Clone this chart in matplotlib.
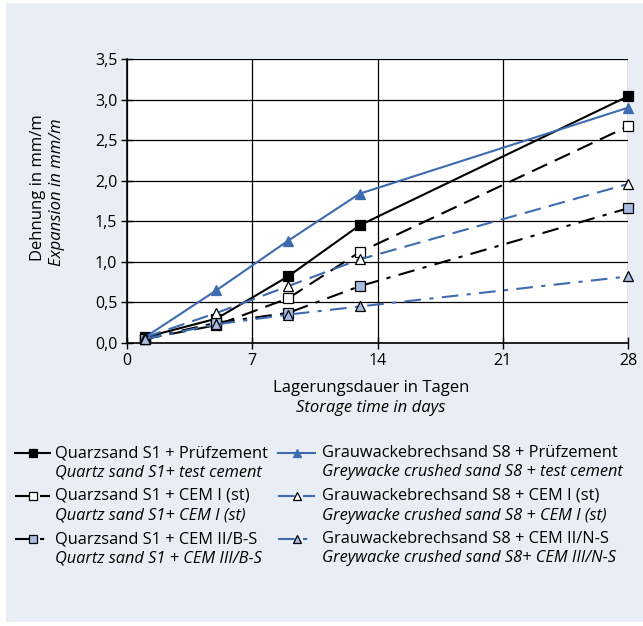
import matplotlib.pyplot as plt
from matplotlib.lines import Line2D
from matplotlib.patches import Rectangle

plt.rcParams['font.family'] = ['Open Sans', 'DejaVu Sans']

# storage time in days
days = [1, 5, 9, 13, 28]

# expansion in mm/m
s1_test = [0.07, 0.30, 0.82, 1.45, 3.04]
s1_cem1 = [0.05, 0.22, 0.55, 1.12, 2.67]
s1_cem2 = [0.05, 0.25, 0.37, 0.70, 1.66]
s8_test = [0.07, 0.65, 1.26, 1.84, 2.90]
s8_cem1 = [0.07, 0.37, 0.70, 1.03, 1.96]
s8_cem2 = [0.05, 0.23, 0.35, 0.45, 0.82]

labels_de = ["Quarzsand S1 + Prüfzement", "Quarzsand S1 + CEM I (st)",
             "Quarzsand S1 + CEM II/B-S", "Grauwackebrechsand S8 + Prüfzement",
             "Grauwackebrechsand S8 + CEM I (st)", "Grauwackebrechsand S8 + CEM II/N-S"]
labels_en = ["Quartz sand S1+ test cement", "Quartz sand S1+ CEM I (st)",
             "Quartz sand S1 + CEM III/B-S", "Greywacke crushed sand S8 + test cement",
             "Greywacke crushed sand S8 + CEM I (st)", "Greywacke crushed sand S8+ CEM III/N-S"]

yticks = [0, 0.5, 1.0, 1.5, 2.0, 2.5, 3.0, 3.5]
xticks = [0, 7, 14, 21, 28]

bg = "#e9eef6"
blue = "#3e6bb0"
light = "#a8bde0"

styles = [
    dict(color="black", ls="-", marker="s", mfc="black", mec="black"),
    dict(color="black", ls=(0, (8, 4)), marker="s", mfc="white", mec="black"),
    dict(color="black", ls=(0, (8, 4, 2, 4)), marker="s", mfc=light, mec="black"),
    dict(color=blue, ls="-", marker="^", mfc=blue, mec=blue),
    dict(color=blue, ls=(0, (8, 4)), marker="^", mfc="white", mec="black"),
    dict(color=blue, ls=(0, (8, 4, 2, 4)), marker="^", mfc=light, mec="black"),
]
series = [s1_test, s1_cem1, s1_cem2, s8_test, s8_cem1, s8_cem2]

W, H = 643, 626
fig = plt.figure(figsize=(W / 100, H / 100), dpi=100)
fig.patch.set_facecolor("white")
fig.patches.append(Rectangle((6 / W, 1 - 622 / H), 637 / W, 619 / H,
                             transform=fig.transFigure, facecolor=bg,
                             edgecolor="none", zorder=-10))

ax = fig.add_axes([127 / W, 1 - 343 / H, 501 / W, 284 / H])
ax.set_facecolor("white")

for ys, st in zip(series, styles):
    ax.plot(days, ys, color=st["color"], ls=st["ls"], lw=1.5, marker=st["marker"],
            ms=7, mfc=st["mfc"], mec=st["mec"], mew=0.9, clip_on=False, zorder=3)

ax.set_xlim(0, 28)
ax.set_ylim(0, 3.5)
ax.set_xticks(xticks)
ax.set_yticks(yticks)
ax.set_yticklabels([f"{v:.1f}".replace(".", ",") for v in yticks])
ax.grid(True, color="black", lw=0.9)
ax.set_axisbelow(True)
for s in ["top", "right"]:
    ax.spines[s].set_visible(False)
for s in ["left", "bottom"]:
    ax.spines[s].set_linewidth(1.2)
ax.tick_params(direction="inout", length=8, width=1, labelsize=11.5, pad=3)

# axis titles
fig.text(371 / W, 1 - 388 / H, "Lagerungsdauer in Tagen", ha="center", va="center", fontsize=12)
fig.text(371 / W, 1 - 408 / H, "Storage time in days", ha="center", va="center",
         fontsize=12, style="italic")
fig.text(38 / W, 1 - 188 / H, "Dehnung in mm/m", ha="center", va="center",
         fontsize=12, rotation=90)
fig.text(57 / W, 1 - 192 / H, "Expansion in mm/m", ha="center", va="center",
         fontsize=12, rotation=90, style="italic")

# manual legend
col_x = [(15, 50, 55), (278, 315, 322)]
row_y = [453, 496, 539]
for i, st in enumerate(styles):
    c, r = divmod(i, 3)
    x0, x1, xt = col_x[c]
    y = 1 - row_y[r] / H
    fig.add_artist(Line2D([x0 / W, x1 / W], [y, y], transform=fig.transFigure,
                          color=st["color"], ls=st["ls"], lw=1.5))
    fig.add_artist(Line2D([(x0 + x1) / 2 / W], [y], transform=fig.transFigure,
                          marker=st["marker"], ms=6, mfc=st["mfc"], mec=st["mec"],
                          mew=0.9, ls="none"))
    fig.text(xt / W, y, labels_de[i], ha="left", va="center", fontsize=11.8)
    fig.text(xt / W, y - 19.5 / H, labels_en[i], ha="left", va="center",
             fontsize=11.8, style="italic")

fig.savefig("out.png", dpi=100)
